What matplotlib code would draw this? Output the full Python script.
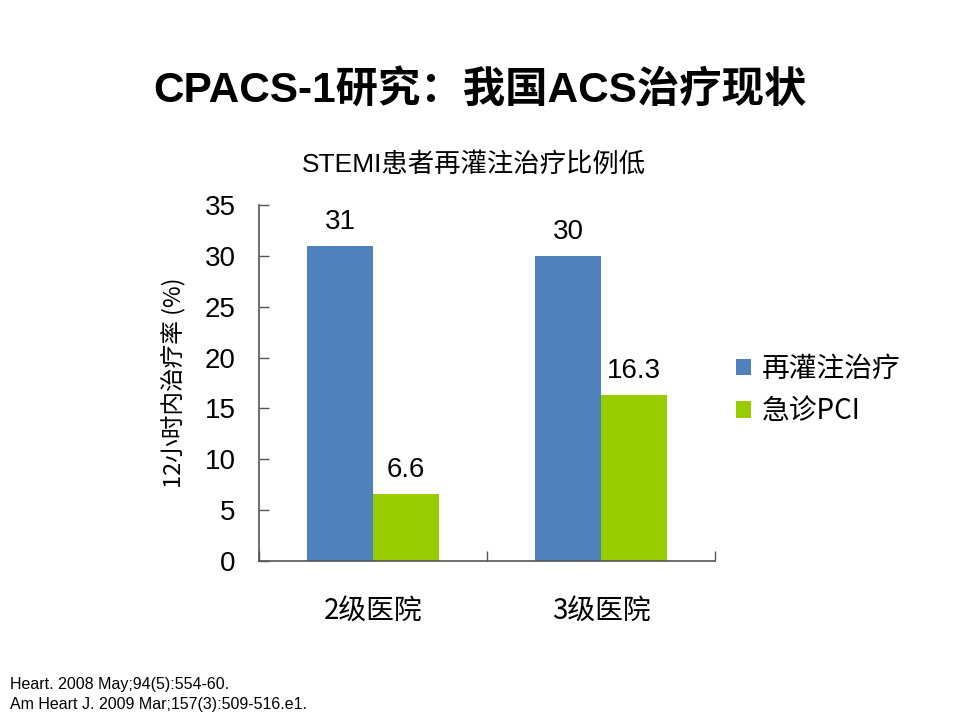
import matplotlib
matplotlib.use("Agg")
import matplotlib.pyplot as plt
import numpy as np

categories = ["2级医院", "3级医院"]
series_names = ["再灌注治疗", "急诊PCI"]
reperfusion = [31, 30]
pci = [6.6, 16.3]
value_labels_rep = ["31", "30"]
value_labels_pci = ["6.6", "16.3"]
yticks = [0, 5, 10, 15, 20, 25, 30, 35]
colors = ["#4F81BD", "#99CC00"]

FAM = ["Liberation Sans", "Noto Sans CJK SC", "DejaVu Sans"]
CJK = ["Noto Sans CJK SC", "DejaVu Sans"]
plt.rcParams["font.family"] = FAM

fig = plt.figure(figsize=(9.6, 7.2), dpi=100)
ax = fig.add_axes([0.270, 0.221, 0.475, 0.494])

x = np.arange(len(categories))
w = 0.29
b1 = ax.bar(x - w / 2, reperfusion, w, color=colors[0], label=series_names[0])
b2 = ax.bar(x + w / 2, pci, w, color=colors[1], label=series_names[1])

for bars, labs in ((b1, value_labels_rep), (b2, value_labels_pci)):
    for rect, lab in zip(bars, labs):
        ax.annotate(lab, (rect.get_x() + rect.get_width() / 2, rect.get_height()),
                    xytext=(0, 8), textcoords="offset points", ha="center", va="bottom",
                    fontsize=20)

ax.set_xlim(-0.5, 1.5)
ax.set_ylim(0, 35)
ax.set_yticks(yticks)
ax.set_yticklabels([str(t) for t in yticks], fontsize=20)
ax.tick_params(axis="y", direction="in", length=7, width=1, color="#555555", pad=17)
ax.set_xticks([-0.5, 0.5, 1.5])
ax.set_xticklabels([])
ax.tick_params(axis="x", direction="in", length=7, width=1, color="#555555")
ax.set_xticks(x, minor=True)
ax.set_xticklabels(categories, minor=True, fontsize=20, family=CJK)
ax.tick_params(axis="x", which="minor", length=0, pad=26)
for s in ["top", "right"]:
    ax.spines[s].set_visible(False)
for s in ["left", "bottom"]:
    ax.spines[s].set_color("#555555")
    ax.spines[s].set_linewidth(1.2)

ax.set_ylabel("12小时内治疗率 (%)", fontsize=17, family=CJK, labelpad=14)

leg = ax.legend(loc="center left", bbox_to_anchor=(0.99, 0.48), frameon=False,
                prop={"family": CJK, "size": 20}, handlelength=0.55, handleheight=0.55,
                handletextpad=0.4, labelspacing=0.45)

fig.text(0.5, 0.874, "CPACS-1研究：我国ACS治疗现状", ha="center", va="center",
         fontsize=30.5, fontweight="bold")
fig.text(0.494, 0.772, "STEMI患者再灌注治疗比例低", ha="center", va="center",
         fontsize=19)
fig.text(0.010, 0.049, "Heart. 2008 May;94(5):554-60.", ha="left", va="center", fontsize=11.5)
fig.text(0.010, 0.022, "Am Heart J. 2009 Mar;157(3):509-516.e1.", ha="left", va="center", fontsize=11.5)

fig.savefig("out.png", dpi=100)
